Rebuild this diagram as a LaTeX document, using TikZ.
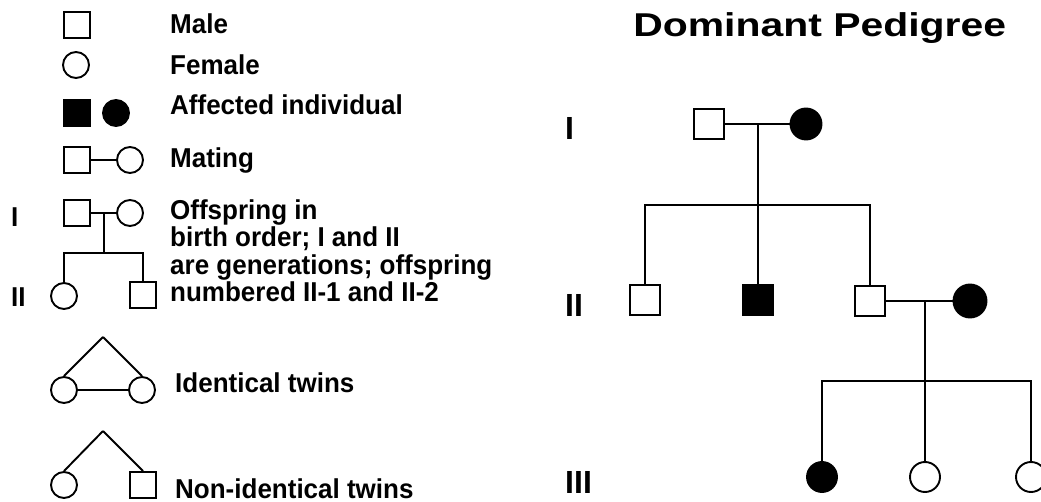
\documentclass[tikz,border=0pt]{standalone}
\usepackage{fontspec}
\setmainfont{Liberation Sans}
\usetikzlibrary{positioning}

\begin{document}
\begin{tikzpicture}[
    x=1pt, y=-1pt,
    male/.style={rectangle, draw, line width=1.9pt, fill=white, inner sep=0pt, minimum size=#1},
    male/.default=26pt,
    female/.style={circle, draw, line width=1.9pt, fill=white, inner sep=0pt, minimum size=#1},
    female/.default=26pt,
    affmale/.style={male=#1, fill=black},
    affmale/.default=26pt,
    afffemale/.style={female=#1, fill=black},
    afffemale/.default=26pt,
    key/.style={anchor=base west, inner sep=0pt, yscale=1.05, font=\bfseries\fontsize{26}{26.3}\selectfont},
    gen/.style={anchor=base west, inner sep=0pt, font=\bfseries\fontsize{32}{32}\selectfont},
    line/.style={line width=1.9pt}
]
\useasboundingbox (0,0) rectangle (1041,502);

% Key: symbols
\node[male] (kmale) at (77,25) {};
\node[female] (kfemale) at (76,65) {};
\node[affmale] (kaffm) at (77,113) {};
\node[afffemale] (kafff) at (116,113) {};
\node[male] (kmatm) at (77,160) {};
\node[female] (kmatf) at (130,160) {};
\draw[line] (kmatm) -- (kmatf);

% Key: offspring in birth order
\node[male] (koffm) at (77,213) {};
\node[female] (kofff) at (130,213) {};
\node[female] (kchild1) at (64,296) {};
\node[male] (kchild2) at (143,295) {};
\coordinate (kmate) at (104,213);
\coordinate (ksib) at (104,253);
\draw[line] (koffm) -- (kofff);
\draw[line] (kmate) -- (ksib);
\draw[line] (kchild1.north) |- (ksib) -| (kchild2.north);
\node[key] (kgen1) at (11,227) {I};
\node[key] (kgen2) at (11,307) {II};

% Key: twins
\coordinate (ktwin1) at (103,337);
\node[female] (ktwa) at (64,390) {};
\node[female] (ktwb) at (142,390) {};
\draw[line] (ktwin1) -- (ktwa.north);
\draw[line] (ktwin1) -- (ktwb.north);
\draw[line] (ktwa) -- (ktwb);
\coordinate (ktwin2) at (103,431);
\node[female] (knta) at (64,485) {};
\node[male] (kntb) at (143,485) {};
\draw[line] (ktwin2) -- (knta.north);
\draw[line] (ktwin2) -- (kntb.north);

% Key: labels
\node[key] at (170,34) {Male};
\node[key] at (170,75) {Female};
\node[key] at (170,115) {Affected individual};
\node[key] at (170,168) {Mating};
\node[key, align=left] at (170,302) {Offspring in\\birth order; I and II\\are generations; offspring\\numbered II-1 and II-2};
\node[key] at (175,392) {Identical twins};
\node[key] at (175,498) {Non-identical twins};

% Title
\node[anchor=base west, inner sep=0pt, xscale=1.24, font=\bfseries\fontsize{33}{33}\selectfont] (title) at (633,37) {Dominant Pedigree};

% Generation labels
\node[gen] (g1) at (565,140) {I};
\node[gen] (g2) at (565,317) {II};
\node[gen] (g3) at (565,493) {III};

% Generation I
\node[male=30pt] (p1) at (709,124) {};
\node[afffemale=31pt] (p2) at (806,124) {};
\coordinate (m1) at (758,124);
\coordinate (s1) at (758,205);
\draw[line] (p1) -- (p2);
\draw[line] (m1) -- (s1);

% Generation II
\node[male=30pt] (c1) at (645,300) {};
\node[affmale=30pt] (c2) at (758,300) {};
\node[male=30pt] (c3) at (870,301) {};
\node[afffemale=33pt] (c4) at (970,301) {};
\draw[line] (c1.north) |- (s1) -| (c3.north);
\draw[line] (s1) -- (c2.north);
\coordinate (m2) at (925,301);
\coordinate (s2) at (925,381);
\draw[line] (c3) -- (c4);
\draw[line] (m2) -- (s2);

% Generation III
\node[afffemale=30pt] (d1) at (822,477) {};
\node[female=30pt] (d2) at (925,477) {};
\node[female=30pt] (d3) at (1031,477) {};
\draw[line] (d1.north) |- (s2) -| (d3.north);
\draw[line] (s2) -- (d2.north);

\end{tikzpicture}
\end{document}
